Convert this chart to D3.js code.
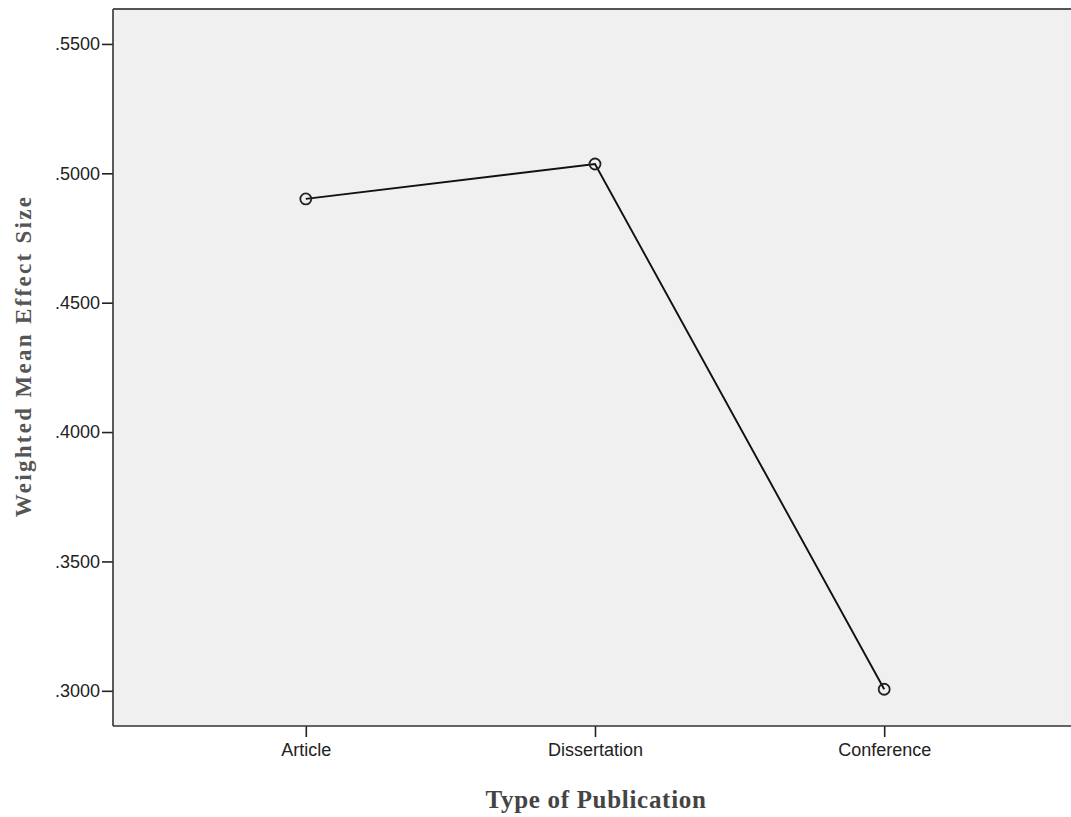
<!DOCTYPE html>
<html><head><meta charset="utf-8">
<script src="https://cdn.jsdelivr.net/npm/d3@7"></script>
<style>body{margin:0;background:#fff}svg{display:block}</style>
</head><body>
<script>
const categories = ["Article", "Dissertation", "Conference"];
const values = [0.4901, 0.5036, 0.3006];
const yTicks = [0.30, 0.35, 0.40, 0.45, 0.50, 0.55];
const yTitle = "Weighted Mean Effect Size";
const xTitle = "Type of Publication";

const W = 1071, H = 817;
const m = {left: 113, top: 9, bottom: 726, right: 1077};
const svg = d3.select("body").append("svg").attr("width", W).attr("height", H);

const x = d3.scalePoint().domain(categories).range([m.left, m.right]).padding(2/3);
const y = d3.scaleLinear().domain([0.2864, 0.5635]).range([m.bottom, m.top]);

svg.append("rect").attr("x", m.left).attr("y", m.top)
  .attr("width", m.right - m.left).attr("height", m.bottom - m.top)
  .attr("fill", "#f0f0f0");

const yAxis = svg.append("g").attr("transform", `translate(${m.left},0)`)
  .call(d3.axisLeft(y).tickValues(yTicks).tickFormat(d => d3.format(".4f")(d).replace(/^0/, "")).tickSizeOuter(0).tickSize(11).tickPadding(2));
const xAxis = svg.append("g").attr("transform", `translate(0,${m.bottom})`)
  .call(d3.axisBottom(x).tickSizeOuter(0).tickSize(11).tickPadding(6));
[yAxis, xAxis].forEach(g => {
  g.attr("font-size", null);
  g.select(".domain").remove();
  g.selectAll("line").attr("stroke", "#222").attr("stroke-width", 1.6);
  g.selectAll("text").style("font-family", "Arial, 'Liberation Sans', sans-serif").style("font-size", "18px").attr("fill", "#222");
});

// frame lines
svg.append("line").attr("x1", m.left).attr("x2", m.left).attr("y1", m.top).attr("y2", m.bottom).attr("stroke", "#333").attr("stroke-width", 1.6);
svg.append("line").attr("x1", m.left).attr("x2", W).attr("y1", m.bottom).attr("y2", m.bottom).attr("stroke", "#333").attr("stroke-width", 1.6);
svg.append("line").attr("x1", m.left).attr("x2", W).attr("y1", m.top).attr("y2", m.top).attr("stroke", "#555").attr("stroke-width", 2);

const data = categories.map((c, i) => ({c, v: values[i]}));
svg.append("path").datum(data)
  .attr("d", d3.line().x(d => x(d.c)).y(d => y(d.v)))
  .attr("fill", "none").attr("stroke", "#111").attr("stroke-width", 1.9);
svg.selectAll("circle.pt").data(data).join("circle")
  .attr("cx", d => x(d.c)).attr("cy", d => y(d.v)).attr("r", 5.5)
  .attr("fill", "none").attr("stroke", "#222").attr("stroke-width", 1.8);

svg.append("text").attr("x", 596).attr("y", 808)
  .attr("text-anchor", "middle").attr("font-family", "'Liberation Serif', 'Times New Roman', serif")
  .attr("font-weight", "bold").attr("font-size", 25).attr("letter-spacing", 0.7).attr("fill", "#444").text(xTitle);
svg.append("text").attr("transform", "translate(31,356) rotate(-90)")
  .attr("text-anchor", "middle").attr("font-family", "'Liberation Serif', 'Times New Roman', serif")
  .attr("font-weight", "bold").attr("font-size", 23).attr("letter-spacing", 2.3).attr("fill", "#555").text(yTitle);
</script>
</body></html>
